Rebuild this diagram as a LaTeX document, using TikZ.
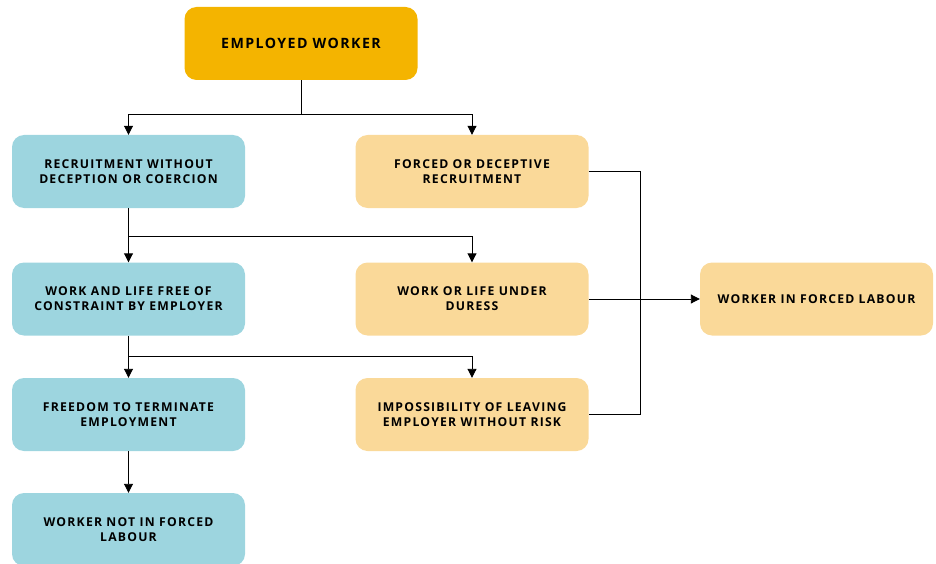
\documentclass[tikz,border=0pt]{standalone}
\usepackage{fontspec}
\setmainfont{Open Sans}[LetterSpace=10]
\usetikzlibrary{arrows.meta,calc}
\definecolor{gold}{HTML}{F4B400}
\definecolor{paleorange}{HTML}{FAD999}
\definecolor{paleblue}{HTML}{9DD5DF}
\begin{document}
\begin{tikzpicture}[x=1pt,y=-1pt,
box/.style={rounded corners=12pt, minimum width=233pt, minimum height=73pt, align=center, inner sep=0pt, font=\fontsize{12.2}{15}\selectfont\bfseries},
goodbox/.style={box, fill=paleblue},
badbox/.style={box, fill=paleorange},
link/.style={line width=0.9pt, -{Triangle[length=9pt,width=9pt]}}]
\useasboundingbox (0,0) rectangle (936,564);
\node[box, fill=gold, font=\fontsize{14.2}{17}\selectfont\bfseries] (emp) at (301,43.5) {EMPLOYED WORKER};
\node[goodbox] (rec) at (128.5,171.5) {RECRUITMENT WITHOUT\\DECEPTION OR COERCION};
\node[badbox] (frc) at (472,171.5) {FORCED OR DECEPTIVE\\RECRUITMENT};
\node[goodbox] (wlf) at (128.5,299) {WORK AND LIFE FREE OF\\CONSTRAINT BY EMPLOYER};
\node[badbox] (wud) at (472,299) {WORK OR LIFE UNDER\\DURESS};
\node[goodbox] (ftt) at (128.5,414.5) {FREEDOM TO TERMINATE\\EMPLOYMENT};
\node[badbox] (imp) at (472,414.5) {IMPOSSIBILITY OF LEAVING\\EMPLOYER WITHOUT RISK};
\node[goodbox] (wnf) at (128.5,529.5) {WORKER NOT IN FORCED\\LABOUR};
\node[badbox] (wfl) at (816.5,299) {WORKER IN FORCED LABOUR};
\draw[line width=0.9pt] (emp.south) -- ++(0,34) coordinate (j1);
\draw[link] (j1) -| (rec.north);
\draw[link] (j1) -| (frc.north);
\draw[line width=0.9pt] (rec.south) -- ++(0,28) coordinate (j2);
\draw[link] (j2) -| (wlf.north);
\draw[link] (j2) -| (wud.north);
\draw[line width=0.9pt] (wlf.south) -- ++(0,21) coordinate (j3);
\draw[link] (j3) -| (ftt.north);
\draw[link] (j3) -| (imp.north);
\draw[link] (ftt.south) -- (wnf.north);
\coordinate (rbus) at (640,414.5);
\draw[line width=0.9pt] (frc.east) -| (rbus) -- (imp.east);
\draw[link] (wud.east) -- (wfl.west);
\end{tikzpicture}
\end{document}
